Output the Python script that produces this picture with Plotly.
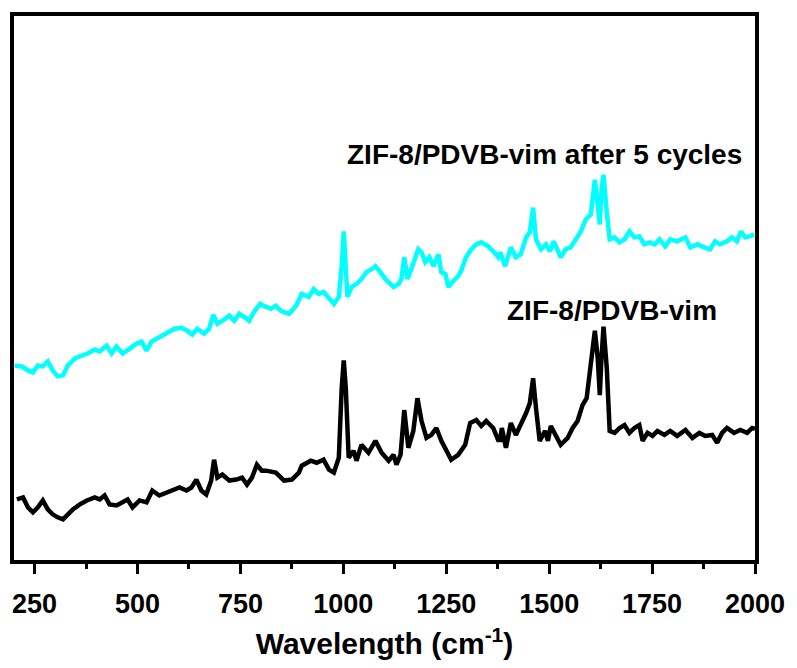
import plotly.graph_objects as go

# Raman spectra (wavenumber in cm-1, intensity in arbitrary units, offset for clarity)
fresh_wn = [207, 222, 234, 246, 258, 270, 282, 294, 306, 319, 331, 343, 360, 377, 396, 408, 420, 432,
            449, 464, 476, 488, 505, 522, 536, 553, 570, 585, 602, 619, 631, 643, 655, 667, 679, 686,
            694, 706, 723, 740, 754, 766, 778, 790, 802, 812, 836, 856, 875, 892, 899, 921, 935, 952,
            965, 977, 989, 996, 1001, 1006, 1013, 1025, 1032, 1044, 1061, 1078, 1093, 1110, 1122, 1129,
            1139, 1148, 1158, 1170, 1180, 1190, 1202, 1214, 1226, 1238, 1250, 1262, 1279, 1296, 1308,
            1323, 1335, 1347, 1364, 1376, 1381, 1385, 1395, 1407, 1419, 1431, 1444, 1453, 1461, 1468,
            1477, 1490, 1497, 1504, 1516, 1528, 1545, 1557, 1569, 1581, 1591, 1601, 1611, 1618, 1623,
            1627, 1632, 1640, 1647, 1659, 1671, 1683, 1695, 1707, 1719, 1727, 1739, 1751, 1763, 1780,
            1794, 1811, 1831, 1848, 1865, 1879, 1896, 1908, 1920, 1932, 1949, 1964, 1981, 1993, 2000]
fresh_int = [61, 63, 53, 48, 53, 60, 51, 46, 43, 41, 46, 51, 56, 60, 63, 61, 65, 56,
             55, 58, 61, 53, 60, 58, 70, 65, 68, 71, 73, 70, 73, 81, 70, 66, 80, 101,
             83, 86, 80, 81, 83, 76, 83, 96, 90, 90, 88, 80, 81, 88, 95, 100, 98, 101,
             91, 88, 103, 173, 201, 173, 103, 110, 100, 116, 108, 120, 108, 100, 106, 96,
             106, 151, 113, 130, 163, 140, 123, 126, 133, 120, 110, 101, 106, 116, 138,
             141, 135, 140, 133, 121, 121, 133, 113, 138, 126, 136, 148, 158, 183, 153,
             120, 130, 120, 135, 126, 116, 123, 133, 140, 156, 163, 193, 231, 203, 166,
             203, 235, 193, 130, 128, 133, 136, 128, 133, 136, 120, 128, 125, 130, 126,
             130, 125, 131, 123, 128, 125, 126, 118, 128, 133, 128, 131, 128, 133, 132]

cycled_wn = [202, 219, 234, 246, 258, 270, 282, 294, 306, 319, 331, 348, 365, 379, 396, 408, 425, 437,
             449, 464, 481, 498, 510, 522, 534, 546, 560, 573, 590, 606, 621, 633, 645, 662, 674, 684,
             694, 706, 723, 735, 747, 759, 771, 783, 798, 807, 824, 836, 848, 868, 885, 899, 916, 928,
             940, 952, 965, 977, 989, 996, 1001, 1006, 1010, 1020, 1032, 1044, 1056, 1069, 1078, 1090,
             1102, 1115, 1122, 1134, 1141, 1148, 1156, 1165, 1175, 1182, 1190, 1199, 1209, 1219, 1231,
             1238, 1248, 1255, 1267, 1279, 1286, 1298, 1311, 1323, 1335, 1352, 1364, 1376, 1381, 1393,
             1407, 1419, 1431, 1444, 1453, 1461, 1468, 1480, 1492, 1502, 1511, 1521, 1528, 1540, 1552,
             1565, 1577, 1589, 1601, 1611, 1615, 1623, 1627, 1632, 1640, 1647, 1659, 1671, 1683, 1695,
             1707, 1719, 1731, 1744, 1756, 1768, 1782, 1794, 1811, 1831, 1843, 1860, 1877, 1891, 1903,
             1915, 1932, 1944, 1956, 1966, 1976, 1988, 1998]
cycled_int = [196, 195, 191, 189, 196, 195, 200, 191, 185, 186, 196, 203, 206, 208, 212, 210, 216, 208,
              215, 208, 213, 218, 220, 211, 220, 223, 226, 230, 233, 234, 231, 227, 233, 228, 233, 247,
              238, 241, 246, 241, 248, 245, 241, 250, 258, 256, 253, 256, 251, 248, 256, 268, 265, 273,
              268, 270, 263, 258, 265, 296, 331, 296, 265, 275, 278, 283, 290, 293, 296, 290,
              283, 278, 275, 278, 283, 305, 283, 293, 305, 313, 310, 300, 305, 296, 308,
              290, 288, 275, 281, 286, 291, 305, 313, 318, 320, 316, 311, 305, 310, 296,
              315, 305, 308, 325, 330, 355, 323, 313, 318, 311, 321, 310, 305, 313, 315,
              323, 331, 343, 348, 383, 366, 338, 373, 388, 350, 323, 325, 320, 323, 331,
              325, 326, 318, 320, 318, 323, 316, 323, 321, 325, 315, 318, 315, 313, 321,
              318, 321, 325, 321, 331, 325, 326, 328]

labels = ["ZIF-8/PDVB-vim", "ZIF-8/PDVB-vim after 5 cycles"]
x_ticks = [250, 500, 750, 1000, 1250, 1500, 1750, 2000]

FONT = "Arial, 'Liberation Sans', Helvetica, sans-serif"

fig = go.Figure()
fig.add_trace(go.Scatter(x=fresh_wn, y=fresh_int, mode="lines",
                         line=dict(color="black", width=4.5), name=labels[0]))
fig.add_trace(go.Scatter(x=cycled_wn, y=cycled_int, mode="lines",
                         line=dict(color="#00FFFF", width=4.5), name=labels[1]))

fig.add_annotation(x=1653, y=251, text=labels[0], showarrow=False,
                   font=dict(family=FONT, size=28, color="black", weight="bold"))
fig.add_annotation(x=1488, y=408, text=labels[1], showarrow=False,
                   font=dict(family=FONT, size=28, color="black", weight="bold"))

fig.update_layout(
    width=797, height=668,
    margin=dict(l=14, r=39, t=15, b=105),
    plot_bgcolor="white", paper_bgcolor="white",
    showlegend=False,
    font=dict(family=FONT, color="black"),
)
fig.update_xaxes(
    range=[200, 2000], tickvals=x_ticks,
    showline=True, mirror=True, linecolor="black", linewidth=3.5,
    ticks="outside", ticklen=10, tickwidth=3, tickcolor="black",
    ticklabelstandoff=7,
    minor=dict(dtick=125, tick0=250, ticks="outside", ticklen=5, tickwidth=3, tickcolor="black"),
    showgrid=False, zeroline=False,
    tickfont=dict(family=FONT, size=27, color="black", weight="bold"),
    title=dict(text="Wavelength (cm<sup>-1</sup>)", standoff=16,
               font=dict(family=FONT, size=30, color="black", weight="bold")),
)
fig.update_yaxes(
    range=[0, 548], showline=True, mirror=True, linecolor="black", linewidth=3.5,
    ticks="", showticklabels=False, showgrid=False, zeroline=False,
)

fig.write_html("out.html")
